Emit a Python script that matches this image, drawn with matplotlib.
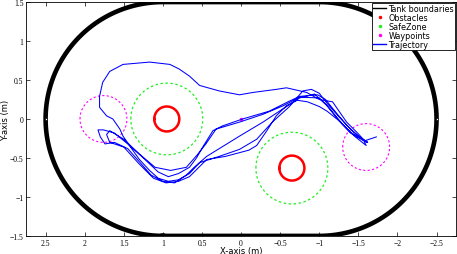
import numpy as np
import matplotlib
matplotlib.use('Agg')
from matplotlib import pyplot as plt

# tank: stadium, two half circles of radius 1.5 joined by straight walls
tank_r = 1.5
tank_cx = [1.0, -1.0]

# obstacles (x, y), red circle radius and green safe-zone radius
obs_x = [0.95, -0.65]
obs_y = [0.00, -0.63]
obs_r = 0.16
safe_r = 0.46

# waypoints and their acceptance circles
wp_x = [1.76, -1.60]
wp_y = [0.00, -0.36]
wp_r = 0.30
mid_wp = [0.0, 0.0]

# trajectory, pass by pass
traj_x = [
    -1.60, -1.48, -1.35, -1.17, -1.00, -0.84, -0.58, -0.45, -0.15, 0.02, 0.28, 0.53, 0.66, 0.79, 0.91,
    1.17, 1.51, 1.68, 1.77, 1.81, 1.81, 1.72, 1.64, 1.55, 1.51,
    1.40, 1.30, 1.17, 1.06, 0.93, 0.80, 0.66, 0.53, 0.28, 0.02, -0.20, -0.40, -0.62, -0.79, -0.90,
    -1.00, -1.10, -1.26, -1.42, -1.55, -1.62,
    -1.50, -1.35, -1.20, -1.08, -0.98, -0.75, -0.62, -0.36, -0.02, 0.24, 0.36, 0.49, 0.57, 0.66, 0.80,
    0.93, 1.06, 1.25, 1.45, 1.62, 1.76, 1.83, 1.80, 1.74,
    1.62, 1.45, 1.30, 1.15, 1.00, 0.85, 0.70, 0.60, 0.44, 0.02, -0.28, -0.49, -0.75, -0.94, -1.09,
    -1.25, -1.40, -1.57, -1.60,
    -1.45, -1.30, -1.12, -1.00, -0.75, -0.54, -0.28, 0.02, 0.32, 0.45, 0.56, 0.70, 0.90, 1.10, 1.30,
    1.50, 1.68, 1.72, 1.68,
    1.50, 1.30, 1.12, 0.96, 0.80, 0.66, 0.44, 0.20, -0.10, -0.20, -0.33, -0.45, -0.58, -0.72, -0.85,
    -1.00, -1.10, -1.25, -1.40, -1.58, -1.73,
]
traj_y = [
    -0.30, -0.17, -0.04, 0.22, 0.25, 0.34, 0.40, 0.38, 0.34, 0.31, 0.36, 0.43, 0.55, 0.64, 0.70,
    0.73, 0.70, 0.61, 0.47, 0.29, 0.15, 0.04, 0.00, -0.13, -0.22,
    -0.38, -0.52, -0.66, -0.76, -0.80, -0.78, -0.70, -0.56, -0.48, -0.39, -0.26, -0.04, 0.16, 0.36, 0.38,
    0.33, 0.20, 0.02, -0.15, -0.26, -0.30,
    -0.22, -0.08, 0.10, 0.25, 0.31, 0.29, 0.23, 0.10, 0.00, -0.09, -0.15, -0.36, -0.50, -0.62, -0.70,
    -0.74, -0.68, -0.50, -0.32, -0.18, -0.14, -0.14, -0.23, -0.32,
    -0.30, -0.38, -0.55, -0.72, -0.80, -0.82, -0.72, -0.62, -0.48, -0.22, -0.04, 0.10, 0.27, 0.32, 0.18,
    -0.02, -0.18, -0.28, -0.34,
    -0.22, -0.07, 0.15, 0.27, 0.28, 0.17, 0.06, -0.04, -0.13, -0.32, -0.46, -0.62, -0.66, -0.62, -0.45,
    -0.26, -0.15, -0.20, -0.30,
    -0.36, -0.58, -0.76, -0.82, -0.80, -0.74, -0.52, -0.48, -0.40, -0.34, -0.15, 0.04, 0.17, 0.24, 0.22,
    0.16, 0.10, -0.02, -0.17, -0.28, -0.23,
]

xticks = [2.5, 2, 1.5, 1, 0.5, 0, -0.5, -1, -1.5, -2, -2.5]
yticks = [-1.5, -1, -0.5, 0, 0.5, 1, 1.5]


def circ(cx, cy, r, n=120):
    t = np.linspace(0, 2*np.pi, n)
    return cx + r*np.cos(t), cy + r*np.sin(t)


fig = plt.figure(figsize=(4.57, 2.55), dpi=100)
ax = fig.add_axes([0.057, 0.071, 0.941, 0.917])

# tank outline
ta = np.linspace(-np.pi/2, np.pi/2, 100)
tb = np.linspace(np.pi/2, 3*np.pi/2, 100)
tx = np.concatenate([tank_cx[0] + tank_r*np.cos(ta), tank_cx[1] + tank_r*np.cos(tb)])
ty = np.concatenate([tank_r*np.sin(ta), tank_r*np.sin(tb)])
tx = np.append(tx, tx[0])
ty = np.append(ty, ty[0])
ax.plot(tx, ty, 'k-', lw=3.3, solid_joinstyle='round')
ax.plot([tank_cx[0] + tank_r, tank_cx[1] - tank_r], [0, 0], 'o', ms=1.6, mfc='white', mec='k', mew=0.5)

for i in range(len(obs_x)):
    cx, cy = circ(obs_x[i], obs_y[i], obs_r)
    ax.plot(cx, cy, color='red', lw=1.8)
    sx, sy = circ(obs_x[i], obs_y[i], safe_r)
    ax.plot(sx, sy, color='#22ee22', lw=0.9, ls=(0, (2, 2)))

for i in range(len(wp_x)):
    wx, wy = circ(wp_x[i], wp_y[i], wp_r)
    ax.plot(wx, wy, color='magenta', lw=0.8, ls=(0, (2, 2)))
ax.plot(mid_wp[0], mid_wp[1], 'o', color='magenta', ms=1.5)

ax.plot(traj_x, traj_y, color='blue', lw=0.75)

# legend proxies
ax.plot([], [], 'k-', lw=1.0, label='Tank boundaries')
ax.plot([], [], 'o', color='red', ms=1.5, label='Obstacles')
ax.plot([], [], 'o', color='#22ee22', ms=1.5, label='SafeZone')
ax.plot([], [], 'o', color='magenta', ms=1.5, label='Waypoints')
ax.plot([], [], color='blue', lw=1.0, label='Trajectory')

ax.set_xlim(2.75, -2.75)
ax.set_ylim(-1.5, 1.5)
ax.set_xticks(xticks)
ax.set_yticks(yticks)
ax.set_xticklabels([('%g' % v).replace('-', '\u2212') for v in xticks], family='Liberation Serif', fontsize=5.5)
ax.set_yticklabels([('%g' % v).replace('-', '\u2212') for v in yticks], family='Liberation Serif', fontsize=5.5)
ax.tick_params(direction='in', top=True, right=True, length=3, width=0.5, pad=2)
for s in ax.spines.values():
    s.set_linewidth(0.6)
ax.set_xlabel('X-axis (m)', fontsize=6)
ax.set_ylabel('Y-axis (m)', fontsize=6)
ax.xaxis.set_label_coords(0.5, -0.043, transform=ax.transAxes)
ax.yaxis.set_label_coords(-0.037, 0.5, transform=ax.transAxes)

leg = ax.legend(loc='upper right', fontsize=5.8, fancybox=False, edgecolor='k', framealpha=1,
                borderaxespad=0.15, borderpad=0.1, labelspacing=0.0, handlelength=1.6,
                handletextpad=0.3)
leg.get_frame().set_linewidth(0.6)

fig.savefig('out.png', dpi=100)
